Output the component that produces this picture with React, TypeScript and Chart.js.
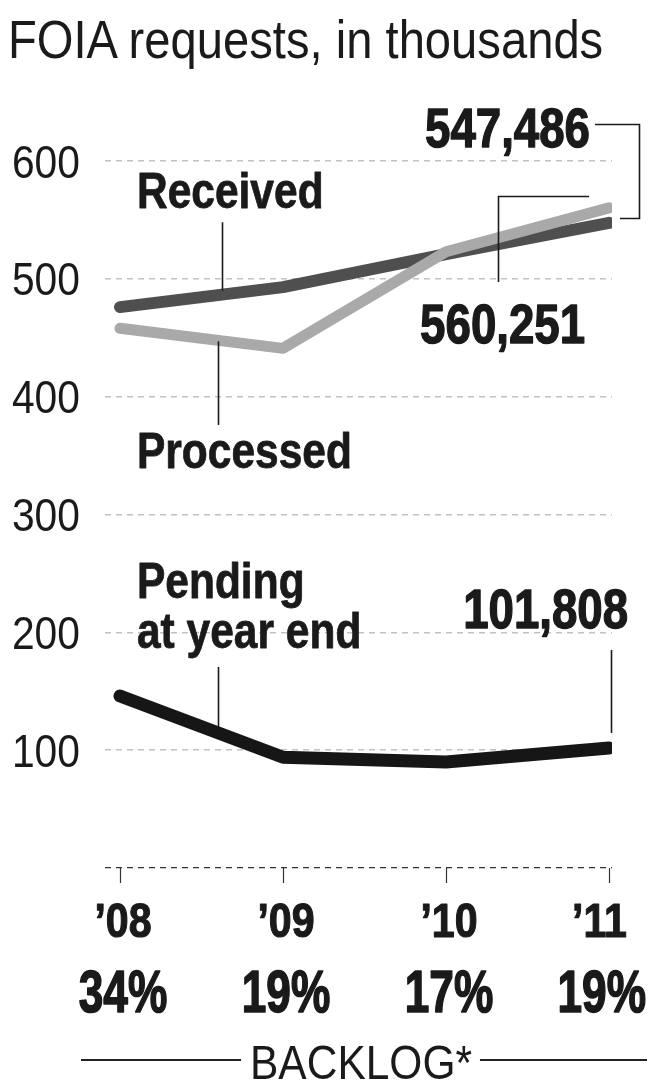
import React, { useEffect, useRef } from "react";
import { Chart, registerables } from "chart.js";

Chart.register(...registerables);

// ---- data ----
const years = ["\u201908", "\u201909", "\u201910", "\u201911"];
const backlog = ["34%", "19%", "17%", "19%"];
const received = [476, 493, 521, 547.486];
const processed = [458, 441, 523, 560.251];
const pending = [146, 94, 90, 101.808];
const yTickValues = [0, 100, 200, 300, 400, 500, 600];

const titleText = "FOIA requests, in thousands";
const receivedLabel = "Received";
const processedLabel = "Processed";
const pendingLabel = ["Pending", "at year end"];
const receivedLast = "547,486";
const processedLast = "560,251";
const pendingLast = "101,808";
const backlogTitle = "BACKLOG*";

const SANS = '"Liberation Sans", Arial, Helvetica, sans-serif';
const INK = "#1a1a1a";

const toPoints = (arr: number[]) => arr.map((v, i) => ({ x: i, y: v }));

// draw horizontally condensed text (optionally emboldened with a thin stroke)
function squeezed(
  ctx: CanvasRenderingContext2D,
  s: string,
  x: number,
  y: number,
  align: CanvasTextAlign,
  font: string,
  sx: number,
  heavy = 0
) {
  ctx.save();
  ctx.font = font;
  ctx.textAlign = align;
  ctx.textBaseline = "alphabetic";
  ctx.translate(x, y);
  ctx.scale(sx, 1);
  ctx.fillText(s, 0, 0);
  if (heavy > 0) {
    ctx.lineWidth = heavy;
    ctx.lineJoin = "round";
    ctx.strokeStyle = ctx.fillStyle as string;
    ctx.strokeText(s, 0, 0);
  }
  ctx.restore();
}
function squeezedWidth(ctx: CanvasRenderingContext2D, s: string, font: string, sx: number) {
  ctx.save();
  ctx.font = font;
  const w = ctx.measureText(s).width * sx;
  ctx.restore();
  return w;
}

const annotate = {
  id: "annotate",
  afterDraw(chart: any) {
    const ctx: CanvasRenderingContext2D = chart.ctx;
    const xs = chart.scales.x;
    const ys = chart.scales.y;
    const X = (v: number) => xs.getPixelForValue(v);
    const Y = (v: number) => ys.getPixelForValue(v);
    ctx.save();
    ctx.fillStyle = INK;
    ctx.strokeStyle = INK;
    ctx.lineWidth = 1.6;
    ctx.lineCap = "butt";
    ctx.lineJoin = "miter";

    const sharp = (p: number) => Math.round(p) + 0.5;
    const path = (pts: [number, number][]) => {
      ctx.beginPath();
      pts.forEach(([a, b], i) => {
        const px = sharp(X(a));
        const py = Y(b);
        if (i === 0) ctx.moveTo(px, py);
        else ctx.lineTo(px, py);
      });
      ctx.stroke();
    };

    const LBL = `bold 50px ${SANS}`;
    const NUM = `bold 56px ${SANS}`;
    const TICK = `46px ${SANS}`;

    // y tick labels
    yTickValues.forEach((v) => {
      if (v === 0) return;
      squeezed(ctx, String(v), 80, Y(v) + 16.5, "right", TICK, 0.887);
    });

    // series labels + leaders
    squeezed(ctx, receivedLabel, X(0.104), Y(560), "left", LBL, 0.85, 0.8);
    path([[0.626, 548], [0.626, 490]]);

    squeezed(ctx, processedLabel, X(0.104), Y(339.5), "left", LBL, 0.85, 0.8);
    path([[0.601, 447], [0.601, 376]]);

    squeezed(ctx, pendingLabel[0], X(0.104), Y(229), "left", LBL, 0.85, 0.8);
    squeezed(ctx, pendingLabel[1], X(0.104), Y(186.7), "left", LBL, 0.85, 0.8);
    path([[0.601, 170.6], [0.601, 118]]);

    // end values
    squeezed(ctx, receivedLast, X(2.883), Y(612), "right", NUM, 0.815, 1.4);
    ctx.beginPath();
    ctx.moveTo(X(2.914), sharp(Y(631.4)));
    ctx.lineTo(sharp(X(3.184)), sharp(Y(631.4)));
    ctx.lineTo(sharp(X(3.184)), sharp(Y(551.6)));
    ctx.lineTo(X(3.067), sharp(Y(551.6)));
    ctx.stroke();

    squeezed(ctx, processedLast, X(2.853), Y(445.6), "right", NUM, 0.815, 1.4);
    ctx.beginPath();
    ctx.moveTo(sharp(X(2.319)), Y(497.3));
    ctx.lineTo(sharp(X(2.319)), sharp(Y(570.3)));
    ctx.lineTo(X(2.877), sharp(Y(570.3)));
    ctx.stroke();

    squeezed(ctx, pendingLast, X(3.117), Y(203.7), "right", NUM, 0.815, 1.4);
    path([[3.012, 185], [3.012, 114.6]]);

    // baseline ticks
    const base = Y(0);
    ctx.strokeStyle = "#333";
    ctx.lineWidth = 1.2;
    years.forEach((_, i) => {
      const px = sharp(X(i));
      ctx.beginPath();
      ctx.moveTo(px, base);
      ctx.lineTo(px, base + 15);
      ctx.stroke();
    });

    // year labels and backlog percentages
    const YR = `bold 49px ${SANS}`;
    const PC = `bold 59px ${SANS}`;
    years.forEach((s, i) => {
      const w = squeezedWidth(ctx, s, YR, 0.84);
      const cx = Math.min(X(i) + 3, 627 - w / 2);
      squeezed(ctx, s, cx, base + 69, "center", YR, 0.84, 1.2);
    });
    backlog.forEach((s, i) => {
      const w = squeezedWidth(ctx, s, PC, 0.75);
      const cx = Math.min(X(i) + 3, 646 - w / 2);
      squeezed(ctx, s, cx, base + 144, "center", PC, 0.75, 1.6);
    });

    // BACKLOG* caption with rules
    const BK = `48px ${SANS}`;
    const tw = squeezedWidth(ctx, backlogTitle, BK, 0.885);
    const cx = 361;
    squeezed(ctx, backlogTitle, cx, base + 211, "center", BK, 0.885);
    ctx.strokeStyle = "#222";
    ctx.lineWidth = 2;
    ctx.beginPath();
    ctx.moveTo(81, base + 192);
    ctx.lineTo(cx - tw / 2 - 9, base + 192);
    ctx.moveTo(cx + tw / 2 + 8, base + 192);
    ctx.lineTo(647, base + 192);
    ctx.stroke();

    ctx.restore();
  },
};

export default function App() {
  const ref = useRef<HTMLCanvasElement | null>(null);

  useEffect(() => {
    if (!ref.current) return;
    const chart = new Chart(ref.current, {
      type: "line",
      data: {
        datasets: [
          {
            label: "Processed",
            data: toPoints(processed),
            borderColor: "#a9a9a9",
            borderWidth: 11,
            order: 0,
          },
          {
            label: "Received",
            data: toPoints(received),
            borderColor: "#4f4f4f",
            borderWidth: 12,
            order: 1,
          },
          {
            label: "Pending",
            data: toPoints(pending),
            borderColor: "#161616",
            borderWidth: 13,
            order: 2,
          },
        ],
      },
      options: {
        animation: false,
        responsive: false,
        devicePixelRatio: 1,
        layout: { padding: { left: 10, right: 37, top: 161, bottom: 220 } },
        elements: {
          line: {
            tension: 0,
            borderCapStyle: "round",
            borderJoinStyle: "round",
            fill: false,
          },
          point: { radius: 0, hoverRadius: 0 },
        },
        plugins: {
          legend: { display: false },
          tooltip: { enabled: false },
          title: { display: false },
        },
        scales: {
          x: {
            type: "linear",
            display: false,
            min: -0.092,
            max: 3.018,
          },
          y: {
            type: "linear",
            min: 0,
            max: 600,
            afterFit: (s: any) => {
              s.width = 95;
            },
            afterBuildTicks: (s: any) => {
              s.ticks = yTickValues.map((v) => ({ value: v }));
            },
            ticks: { display: false },
            grid: {
              drawTicks: false,
              color: (c: any) => (c.tick && c.tick.value === 0 ? "#333" : "#c2c2c2"),
              lineWidth: (c: any) => (c.tick && c.tick.value === 0 ? 1.2 : 1.5),
            },
            border: { display: false, dash: [6, 5] },
          },
        },
      },
      plugins: [annotate],
    });
    return () => chart.destroy();
  }, []);

  return (
    <div
      style={{
        position: "absolute",
        left: 0,
        top: 0,
        width: 649,
        height: 1088,
        background: "#fff",
        overflow: "hidden",
      }}
    >
      <div
        style={{
          position: "absolute",
          left: 8,
          top: 13,
          fontFamily: SANS,
          fontSize: 53,
          lineHeight: "53px",
          color: INK,
          whiteSpace: "nowrap",
          transform: "scaleX(0.89)",
          transformOrigin: "0 0",
        }}
      >
        {titleText}
      </div>
      <canvas
        ref={ref}
        width={649}
        height={1088}
        style={{ position: "absolute", left: 0, top: 0 }}
      />
    </div>
  );
}
